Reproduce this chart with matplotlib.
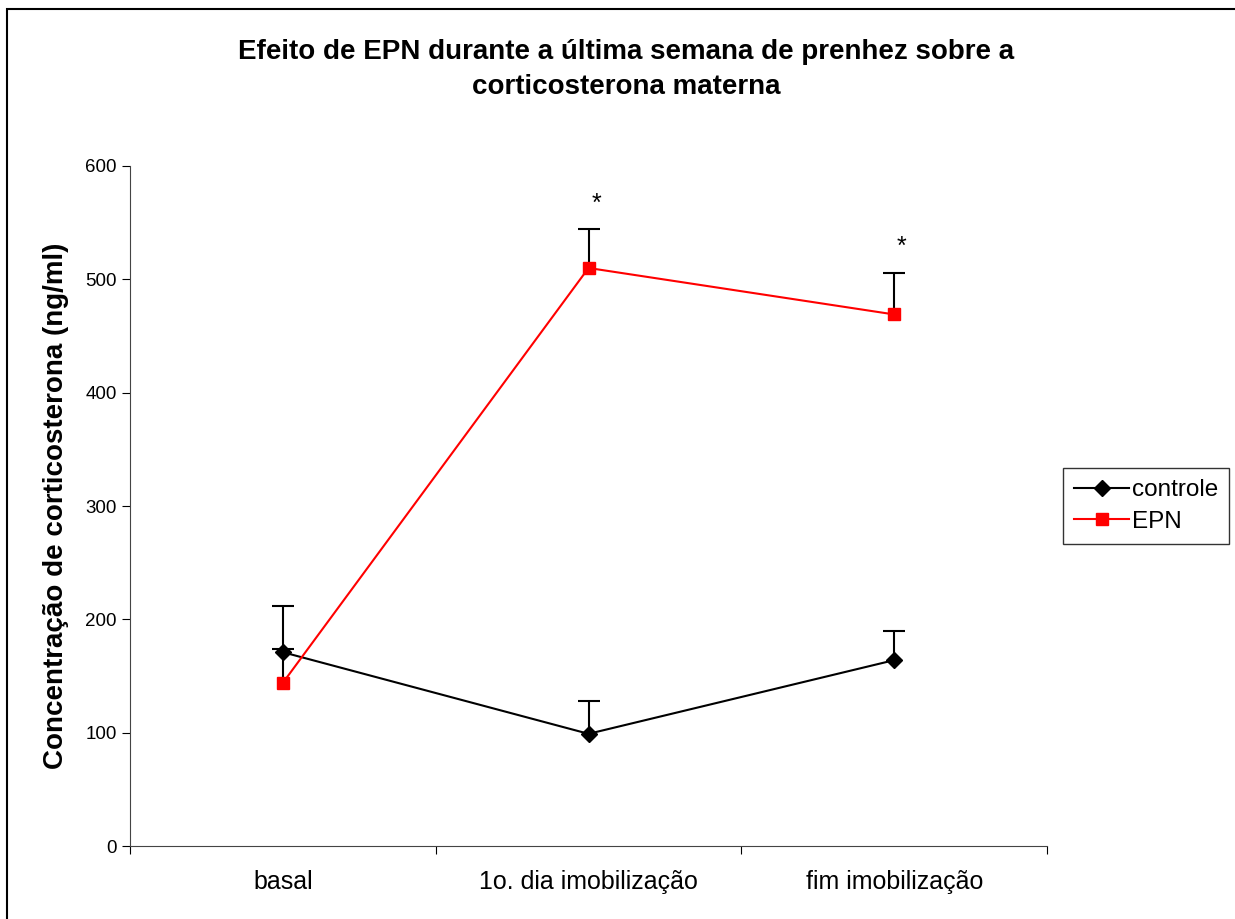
import matplotlib
matplotlib.use('Agg')
import matplotlib.pyplot as plt
from matplotlib.patches import Rectangle

plt.rcParams['font.family'] = ['Liberation Sans', 'DejaVu Sans']

# data
categories = ['basal', '1o. dia imobilização', 'fim imobilização']
controle = [171, 99, 164]
controle_err = [41, 29, 26]
epn = [144, 510, 469]
epn_err = [30, 34, 37]
signif = ['', '*', '*']

x = [0.5, 1.5, 2.5]

fig = plt.figure(figsize=(12.35, 9.19), dpi=100)
fig.patches.append(Rectangle((0.006, -0.01), 1.2, 1.0, transform=fig.transFigure,
                             fill=False, edgecolor='black', linewidth=1.5, figure=fig))
ax = fig.add_axes([0.1053, 0.0794, 0.7425, 0.74])

# upward-only error bars (hide the lower caps)
for vals, errs in [(controle, controle_err), (epn, epn_err)]:
    eb = ax.errorbar(x, vals, yerr=[[0] * len(errs), errs], fmt='none', ecolor='black',
                     elinewidth=1.5, capsize=8, capthick=1.5, zorder=2)
    eb[1][0].set_visible(False)

ax.plot(x, controle, color='black', marker='D', markersize=8, linewidth=1.5,
        label='controle', zorder=3)
ax.plot(x, epn, color='red', marker='s', markersize=9, linewidth=1.5,
        label='EPN', zorder=3)

for xi, v, e, s in zip(x, epn, epn_err, signif):
    if s:
        ax.text(xi + 0.025, v + e + 12, s, ha='center', va='bottom', fontsize=18)

ax.set_xlim(0, 3)
ax.set_ylim(0, 600)
ax.set_yticks(range(0, 601, 100))
ax.set_xticks([0, 1, 2, 3])
ax.set_xticklabels([])
ax.set_xticks(x, minor=True)
ax.set_xticklabels(categories, minor=True)
ax.tick_params(axis='x', which='minor', length=0, pad=17, labelsize=18)
ax.tick_params(axis='x', which='major', length=6, direction='out')
ax.tick_params(axis='y', length=6, direction='out', labelsize=13.5)
for side in ['top', 'right']:
    ax.spines[side].set_visible(False)
ax.spines['left'].set_color('#444444')
ax.spines['bottom'].set_color('#444444')

ax.set_ylabel('Concentração de corticosterona (ng/ml)', fontsize=20, fontweight='bold', labelpad=12)
fig.suptitle('Efeito de EPN durante a última semana de prenhez sobre a\ncorticosterona materna',
             fontsize=20, fontweight='bold', x=0.507, y=0.958, linespacing=1.45)

leg = ax.legend(loc='center left', bbox_to_anchor=(1.017, 0.5), fontsize=17.5,
                frameon=True, fancybox=False, edgecolor='black', handlelength=2.3,
                borderpad=0.45, handletextpad=0.1, labelspacing=0.4, borderaxespad=0)
leg.get_frame().set_linewidth(1.0)

fig.savefig('out.png', dpi=100)
